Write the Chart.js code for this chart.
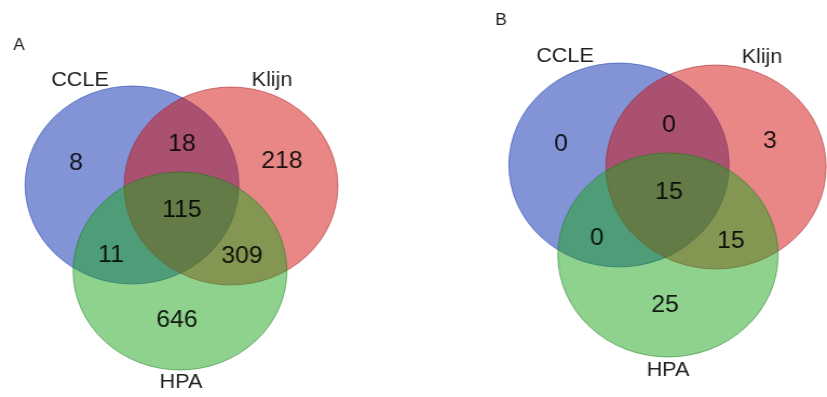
<!DOCTYPE html>
<html>
<head>
<meta charset="utf-8">
<script src="https://cdn.jsdelivr.net/npm/chart.js@4"></script>
<style>
  html, body { margin: 0; padding: 0; background: #fff; overflow: hidden; }
  #wrap { width: 827px; height: 397px; overflow: hidden; }
  /* the figure is drawn with round sets, then widened a little horizontally */
  #venn { display: block; transform: scaleX(1.0796); transform-origin: 0 0; }
</style>
</head>
<body>
<div id="wrap"><canvas id="venn" width="766" height="397"></canvas></div>
<script>
// Set names and region counts for the two three-set Venn diagrams
const setNames = ['CCLE', 'Klijn', 'HPA'];
const panelNames = ['A', 'B'];
// region order: CCLE only, CCLE∩Klijn, Klijn only, all three, CCLE∩HPA, Klijn∩HPA, HPA only
const regionKeys = ['c', 'ck', 'k', 'ckh', 'ch', 'kh', 'h'];
const countsA = [8, 18, 218, 115, 11, 309, 646];
const countsB = [0, 0, 3, 15, 0, 15, 25];

// Layout (in figure units: x 0..827, y 0..397 from the top)
const layout = [
  {
    panel: { x: 19, y: 46 },
    circles: [ { x: 132, y: 185, r: 99 }, { x: 231, y: 186, r: 99 }, { x: 180, y: 271, r: 99 } ],
    names: [ { x: 80, y: 80 }, { x: 272, y: 80 }, { x: 181, y: 382 } ],
    regions: { c: [76, 164], ck: [182, 145], k: [282, 162], ckh: [182, 211], ch: [111, 256], kh: [242, 257], h: [177, 321] }
  },
  {
    panel: { x: 501, y: 21 },
    circles: [ { x: 619, y: 165, r: 102 }, { x: 716, y: 167, r: 102 }, { x: 668, y: 255, r: 102 } ],
    names: [ { x: 565, y: 56 }, { x: 762, y: 57 }, { x: 668, y: 370 } ],
    regions: { c: [561, 145], ck: [669, 126], k: [770, 142], ckh: [669, 193], ch: [597, 239], kh: [731, 242], h: [665, 306] }
  }
];
const counts = [countsA, countsB];

const fills = ['rgba(5,41,173,0.5)', 'rgba(211,15,15,0.5)', 'rgba(29,165,29,0.5)'];
const edges = ['rgba(5,41,173,0.5)', 'rgba(160,15,15,0.5)', 'rgba(20,120,20,0.5)'];

// one bubble dataset per set, one bubble per panel; HPA drawn last (on top)
const datasets = setNames.map((name, i) => ({
  label: name,
  data: layout.map(p => ({ x: p.circles[i].x, y: p.circles[i].y, r: p.circles[i].r })),
  backgroundColor: fills[i],
  borderColor: edges[i],
  borderWidth: 1,
  order: 3 - i,
  clip: false
}));

const textPlugin = {
  id: 'vennText',
  afterDatasetsDraw(chart) {
    const { ctx, scales: { x, y } } = chart;
    const px = v => x.getPixelForValue(v);
    const py = v => y.getPixelForValue(v);
    ctx.save();
    ctx.textAlign = 'center';
    ctx.textBaseline = 'middle';
    layout.forEach((p, pi) => {
      ctx.fillStyle = '#222';
      ctx.font = '16px "Liberation Sans", Arial, sans-serif';
      ctx.fillText(panelNames[pi], px(p.panel.x), py(p.panel.y));
      ctx.font = '20px "Liberation Sans", Arial, sans-serif';
      setNames.forEach((n, i) => ctx.fillText(n, px(p.names[i].x), py(p.names[i].y)));
      ctx.fillStyle = 'rgba(0,0,0,0.88)';
      ctx.font = '23px "Liberation Sans", Arial, sans-serif';
      regionKeys.forEach((k, ri) => {
        const [rx, ry] = p.regions[k];
        ctx.fillText(String(counts[pi][ri]), px(rx), py(ry));
      });
    });
    ctx.restore();
  }
};

new Chart(document.getElementById('venn'), {
  type: 'bubble',
  data: { datasets },
  options: {
    responsive: false,
    devicePixelRatio: 1,
    animation: false,
    events: [],
    layout: { padding: 0, autoPadding: false },
    plugins: { legend: { display: false }, tooltip: { enabled: false } },
    scales: {
      x: { type: 'linear', min: 0, max: 827, display: false },
      y: { type: 'linear', min: 0, max: 397, reverse: true, display: false }
    }
  },
  plugins: [textPlugin]
});
</script>
</body>
</html>
